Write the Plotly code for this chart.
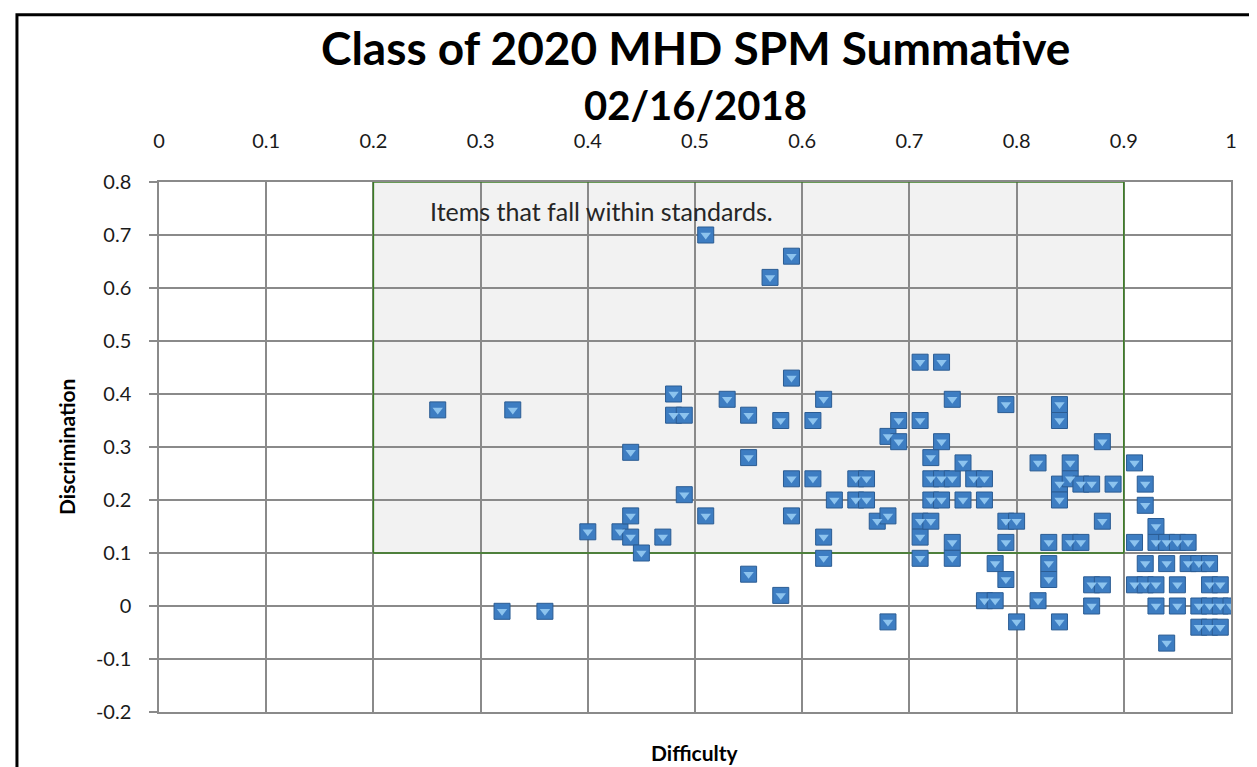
import plotly.graph_objects as go

# ---- data ----
difficulty = [
    0.26, 0.33, 0.32, 0.36,
    0.40, 0.43, 0.44, 0.44, 0.44, 0.45, 0.47,
    0.48, 0.48, 0.49, 0.49,
    0.51, 0.51, 0.53, 0.55, 0.55, 0.55,
    0.57, 0.58, 0.58, 0.59, 0.59, 0.59, 0.59,
    0.61, 0.61, 0.62, 0.62, 0.62, 0.63,
    0.65, 0.66, 0.65, 0.66, 0.67, 0.68, 0.68, 0.68,
    0.69, 0.69,
    0.71, 0.71, 0.71, 0.71, 0.71,
    0.72, 0.72, 0.72, 0.72,
    0.73, 0.73, 0.73, 0.73,
    0.74, 0.74, 0.74, 0.74,
    0.75, 0.75,
    0.76,
    0.77, 0.77, 0.77,
    0.78, 0.78,
    0.79, 0.79, 0.79, 0.79,
    0.80, 0.80,
    0.82, 0.82,
    0.83, 0.83, 0.83,
    0.84, 0.84, 0.84, 0.84, 0.84,
    0.85, 0.85, 0.85,
    0.86, 0.86,
    0.87, 0.87, 0.87,
    0.88, 0.88, 0.88,
    0.89,
    0.91, 0.91, 0.91,
    0.92, 0.92, 0.92, 0.92,
    0.93, 0.93, 0.93, 0.93,
    0.94, 0.94, 0.94,
    0.95, 0.95, 0.95,
    0.96, 0.96,
    0.97, 0.97, 0.97,
    0.98, 0.98, 0.98, 0.98,
    0.99, 0.99, 0.99,
    1.00,
]
discrimination = [
    0.37, 0.37, -0.01, -0.01,
    0.14, 0.14, 0.13, 0.17, 0.29, 0.10, 0.13,
    0.40, 0.36, 0.36, 0.21,
    0.70, 0.17, 0.39, 0.36, 0.28, 0.06,
    0.62, 0.35, 0.02, 0.66, 0.43, 0.24, 0.17,
    0.35, 0.24, 0.39, 0.13, 0.09, 0.20,
    0.24, 0.24, 0.20, 0.20, 0.16, 0.17, 0.32, -0.03,
    0.35, 0.31,
    0.46, 0.35, 0.16, 0.13, 0.09,
    0.28, 0.24, 0.20, 0.16,
    0.46, 0.31, 0.24, 0.20,
    0.39, 0.24, 0.12, 0.09,
    0.27, 0.20,
    0.24,
    0.24, 0.20, 0.01,
    0.08, 0.01,
    0.38, 0.16, 0.12, 0.05,
    0.16, -0.03,
    0.27, 0.01,
    0.12, 0.08, 0.05,
    0.38, 0.35, 0.23, 0.20, -0.03,
    0.27, 0.24, 0.12,
    0.23, 0.12,
    0.23, 0.04, 0.00,
    0.31, 0.16, 0.04,
    0.23,
    0.27, 0.12, 0.04,
    0.23, 0.19, 0.08, 0.04,
    0.15, 0.12, 0.04, 0.00,
    0.12, 0.08, -0.07,
    0.12, 0.04, 0.00,
    0.12, 0.08,
    0.08, 0.00, -0.04,
    0.08, 0.04, 0.00, -0.04,
    0.04, 0.00, -0.04,
    0.00,
]

x_tick_vals = [0, 0.1, 0.2, 0.3, 0.4, 0.5, 0.6, 0.7, 0.8, 0.9, 1]
x_tick_text = ["0", "0.1", "0.2", "0.3", "0.4", "0.5", "0.6", "0.7", "0.8", "0.9", "1"]
y_tick_vals = [-0.2, -0.1, 0, 0.1, 0.2, 0.3, 0.4, 0.5, 0.6, 0.7, 0.8]
y_tick_text = ["-0.2", "-0.1", "0", "0.1", "0.2", "0.3", "0.4", "0.5", "0.6", "0.7", "0.8"]

# standards box (difficulty 0.2-0.9, discrimination 0.1-0.8)
box_x = [0.2, 0.9]
box_y = [0.1, 0.8]

title_line1 = "Class of 2020 MHD SPM Summative"
title_line2 = "02/16/2018"
x_title = "Difficulty"
y_title = "Discrimination"
box_label = "Items that fall within standards."

FONT = "Lato"
GRID = "#8a8a8a"

# pixel helpers for paper-referenced placement (plot area 151..1222.7 x 174.3..704.3)
def px_x(p):
    return (p - 151) / 1071.7

def px_y(p):
    return (704.3 - p) / 530

fig = go.Figure()

fig.add_trace(go.Scatter(
    x=difficulty, y=discrimination, mode="markers",
    marker=dict(symbol="square", size=16, color="#3D7DC2",
                line=dict(color="#2B5C93", width=1)),
    hoverinfo="x+y", showlegend=False,
))
fig.add_trace(go.Scatter(
    x=difficulty, y=discrimination, mode="markers",
    marker=dict(symbol="triangle-down", size=9, color="#8CC3EE",
                line=dict(width=0)),
    hoverinfo="skip", showlegend=False,
))

# shaded standards region (below grid) and its green outline
fig.add_shape(type="rect", xref="x", yref="y",
              x0=box_x[0], x1=box_x[1], y0=box_y[0], y1=box_y[1],
              fillcolor="#F2F2F2", line=dict(width=0), layer="below")
fig.add_shape(type="rect", xref="x", yref="y",
              x0=box_x[0], x1=box_x[1], y0=box_y[0], y1=box_y[1],
              fillcolor="rgba(0,0,0,0)", line=dict(color="#3B7D23", width=1.5),
              layer="between")

# outer chart frame
fig.add_shape(type="rect", xref="paper", yref="paper",
              x0=px_x(9), x1=px_x(1250), y0=px_y(800), y1=px_y(7),
              line=dict(color="black", width=3), fillcolor="rgba(0,0,0,0)",
              layer="above")

fig.add_annotation(text=box_label, x=px_x(593), y=px_y(203),
                   xref="paper", yref="paper", showarrow=False,
                   xanchor="center", yanchor="middle",
                   font=dict(family=FONT, size=25, color="#262626"))

fig.add_annotation(text="<b>%s</b>" % title_line1, xref="paper", yref="paper",
                   x=0.5, y=px_y(40), showarrow=False, borderpad=0,
                   xanchor="center", yanchor="middle",
                   font=dict(family=FONT, size=46, color="black"))
fig.add_annotation(text="<b>%s</b>" % title_line2, xref="paper", yref="paper",
                   x=0.5, y=px_y(97), showarrow=False, borderpad=0,
                   xanchor="center", yanchor="middle",
                   font=dict(family=FONT, size=40, color="black"))
fig.add_annotation(text="<b>%s</b>" % x_title, xref="paper", yref="paper",
                   x=0.5, y=px_y(745), showarrow=False,
                   xanchor="center", yanchor="middle",
                   font=dict(family=FONT, size=21, color="black"))
fig.add_annotation(text="<b>%s</b>" % y_title, xref="paper", yref="paper",
                   x=px_x(58), y=0.5, showarrow=False, textangle=-90,
                   xanchor="center", yanchor="middle",
                   font=dict(family=FONT, size=21, color="black"))

fig.update_layout(
    width=1257, height=767,
    margin=dict(l=151, r=34, t=174, b=63),
    paper_bgcolor="white", plot_bgcolor="white",
    font=dict(family=FONT, size=20, color="black"),
    showlegend=False,
)
fig.update_xaxes(
    range=[0, 1], side="top", tickvals=x_tick_vals, ticktext=x_tick_text,
    showgrid=True, gridcolor=GRID, gridwidth=1.5,
    showline=True, linecolor=GRID, linewidth=1.5, mirror=True,
    ticks="", zeroline=False, tickfont=dict(family=FONT, size=20, color="#1a1a1a"),
    ticklabelstandoff=24,
)
fig.update_yaxes(
    range=[-0.2, 0.8], tickvals=y_tick_vals, ticktext=y_tick_text,
    showgrid=True, gridcolor=GRID, gridwidth=1.5,
    showline=True, linecolor=GRID, linewidth=1.5, mirror=True,
    ticks="outside", ticklen=8, tickcolor=GRID, tickwidth=1.5,
    zeroline=False, tickfont=dict(family=FONT, size=20, color="#1a1a1a"),
    ticklabelstandoff=14,
)

fig.write_html("out.html")
